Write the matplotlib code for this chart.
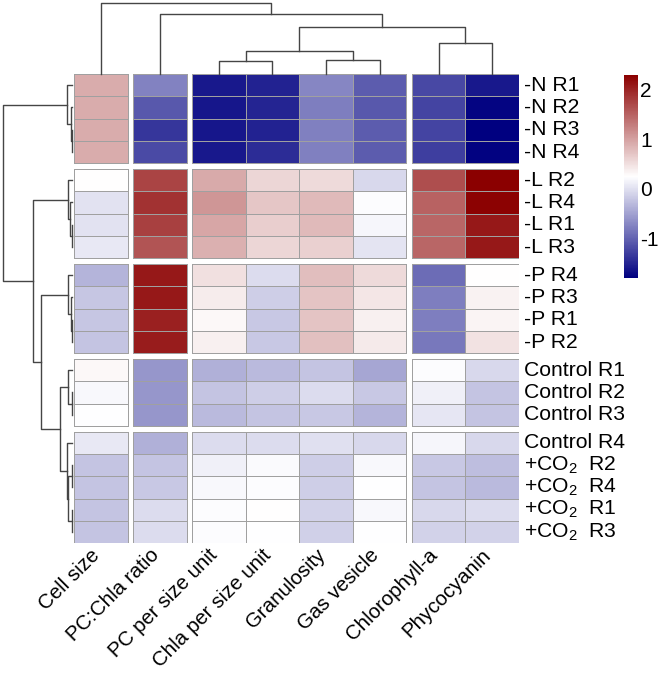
import numpy as np
import matplotlib.pyplot as plt
from matplotlib.colors import LinearSegmentedColormap, Normalize
from matplotlib.cm import ScalarMappable

plt.rcParams['font.family'] = ['Liberation Sans', 'DejaVu Sans']
plt.rcParams['mathtext.fontset'] = 'custom'
plt.rcParams['mathtext.rm'] = 'Liberation Sans'
plt.rcParams['mathtext.it'] = 'Liberation Sans:italic'
plt.rcParams['axes.unicode_minus'] = False

row_labels = ['-N R1', '-N R2', '-N R3', '-N R4',
              '-L R2', '-L R4', '-L R1', '-L R3',
              '-P R4', '-P R3', '-P R1', '-P R2',
              'Control R1', 'Control R2', 'Control R3',
              'Control R4',
              r'+CO$_{\mathrm{2}}$  R2', r'+CO$_{\mathrm{2}}$  R4',
              r'+CO$_{\mathrm{2}}$  R1', r'+CO$_{\mathrm{2}}$  R3']
col_labels = ['Cell size', 'PC:Chla ratio', 'PC per size unit', 'Chla per size unit',
              'Granulosity', 'Gas vesicle', 'Chlorophyll-a', 'Phycocyanin']

# scaled values, one list per column (rows in display order)
cell_size = [0.92, 0.92, 0.92, 0.92, 0.25, 0.01, 0.01, 0.06, -0.35, -0.2, -0.2, -0.22,
             0.3, 0.2, 0.24, 0.06, -0.23, -0.22, -0.22, -0.22]
pc_chla_ratio = [-0.75, -1.08, -1.36, -1.2, 1.74, 1.89, 1.78, 1.62, 2.1, 2.1, 2.03, 2.06,
                 -0.59, -0.59, -0.59, -0.39, -0.23, -0.19, -0.03, -0.03]
pc_per_size = [-1.6, -1.62, -1.62, -1.6, 0.93, 1.09, 0.97, 0.89, 0.5, 0.41, 0.3, 0.37,
               -0.39, -0.23, -0.31, -0.03, 0.13, 0.19, 0.23, 0.23]
chla_per_size = [-1.52, -1.5, -1.52, -1.44, 0.58, 0.7, 0.65, 0.58, -0.03, -0.15, -0.19, -0.19,
                 -0.31, -0.15, -0.23, -0.03, 0.21, 0.23, 0.26, 0.24]
granulosity = [-0.72, -0.78, -0.76, -0.76, 0.54, 0.81, 0.8, 0.62, 0.77, 0.73, 0.73, 0.76,
               -0.23, -0.03, -0.19, 0.0, -0.15, -0.15, -0.11, -0.12]
gas_vesicle = [-1.05, -1.08, -1.06, -1.05, -0.07, 0.23, 0.17, 0.03, 0.54, 0.45, 0.37, 0.42,
               -0.47, -0.19, -0.35, -0.07, 0.19, 0.24, 0.2, 0.24]
chlorophyll_a = [-1.22, -1.25, -1.25, -1.3, 1.66, 1.5, 1.48, 1.48, -0.92, -0.79, -0.79, -0.83,
                 0.23, 0.13, 0.05, 0.18, -0.19, -0.23, -0.07, -0.11]
phycocyanin = [-1.6, -1.76, -1.8, -1.78, 2.3, 2.28, 2.1, 2.1, 0.26, 0.36, 0.34, 0.48,
               -0.07, -0.23, -0.23, -0.07, -0.27, -0.31, -0.03, -0.11]

# hierarchical clustering merges: (child a, child b, height); ids >= n are earlier merges
row_merges = [(2, 3, 0.3), (1, 20, 1.3), (0, 21, 5.3),
              (6, 7, 0.5), (5, 23, 2.5), (4, 24, 3.7),
              (10, 11, 0.3), (9, 26, 0.6), (8, 27, 3.7),
              (13, 14, 0.5), (12, 29, 3.7),
              (16, 17, 0.5), (18, 19, 0.5), (31, 32, 3.7), (15, 33, 5.3),
              (30, 34, 12.0), (28, 35, 31.3), (25, 36, 39.3), (22, 37, 69.3)]
col_merges = [(2, 3, 13.0), (4, 5, 14.0), (8, 9, 23.3), (6, 7, 31.3),
              (10, 11, 46.7), (1, 12, 60.0), (0, 13, 71.3)]

row_cuts = [4, 8, 12, 15]
col_cuts = [1, 2, 6]

data = np.column_stack([cell_size, pc_chla_ratio, pc_per_size, chla_per_size,
                        granulosity, gas_vesicle, chlorophyll_a, phycocyanin])
nr, nc = data.shape

cmap = LinearSegmentedColormap.from_list('nwr', ['#000080', '#ffffff', '#8b0000'])
norm = Normalize(vmin=-1.8, vmax=2.3)

gx, gy = 0.1, 0.255
xs = np.array([i + gx * sum(i >= k for k in col_cuts) for i in range(nc)])
ys = np.array([j + gy * sum(j >= k for k in row_cuts) for j in range(nr)])

W, H = 661, 677
fig = plt.figure(figsize=(W / 100, H / 100), dpi=100)


def px_axes(x0, y0, x1, y1):
    return fig.add_axes([x0 / W, 1 - y1 / H, (x1 - x0) / W, (y1 - y0) / H])


ax = px_axes(74, 74, 519, 543.3)
rb = [0] + row_cuts + [nr]
cb_ = [0] + col_cuts + [nc]
for r0, r1 in zip(rb[:-1], rb[1:]):
    for c0, c1 in zip(cb_[:-1], cb_[1:]):
        xe = np.append(xs[c0:c1], xs[c1 - 1] + 1)
        ye = np.append(ys[r0:r1], ys[r1 - 1] + 1)
        ax.pcolormesh(xe, ye, data[r0:r1, c0:c1], cmap=cmap, norm=norm,
                      edgecolors='#a0a0a0', linewidth=0.7)
ax.set_xlim(0, xs[-1] + 1)
ax.set_ylim(ys[-1] + 1, 0)
ax.axis('off')

for j, lab in enumerate(row_labels):
    ax.text(xs[-1] + 1.1, ys[j] + 0.5, lab, ha='left', va='center', fontsize=15.2)
for i, lab in enumerate(col_labels):
    ax.text(xs[i] + 0.3, ys[-1] + 1.1, lab, rotation=45, ha='right', va='top',
            rotation_mode='anchor', fontsize=14.8)


def dendro(dax, merges, leaf_pos, vertical):
    pos = list(leaf_pos)
    hgt = [0.0] * len(leaf_pos)
    for a, b, h in merges:
        pa, pb = pos[a], pos[b]
        xx = [pa, pa, pb, pb]
        yy = [hgt[a], h, h, hgt[b]]
        if vertical:
            dax.plot(xx, yy, color='#454545', lw=1.0, clip_on=False)
        else:
            dax.plot(yy, xx, color='#454545', lw=1.0, clip_on=False)
        pos.append((pa + pb) / 2)
        hgt.append(h)


# row dendrogram
rax = px_axes(2, 74, 72, 543.3)
dendro(rax, row_merges, ys + 0.5, vertical=False)
rax.set_xlim(70, 0)
rax.set_ylim(ys[-1] + 1, 0)
rax.axis('off')

# column dendrogram
cax_d = px_axes(74, 2, 519, 74)
dendro(cax_d, col_merges, xs + 0.5, vertical=True)
cax_d.set_xlim(0, xs[-1] + 1)
cax_d.set_ylim(0, 72)
cax_d.axis('off')

# colour key
kax = px_axes(624.3, 75, 637.7, 278)
cb = fig.colorbar(ScalarMappable(norm=norm, cmap=cmap), cax=kax, ticks=[-1, 0, 1, 2])
cb.outline.set_visible(False)
kax.tick_params(length=0, pad=2, labelsize=15)

fig.savefig('out.png', dpi=100, facecolor='white')
